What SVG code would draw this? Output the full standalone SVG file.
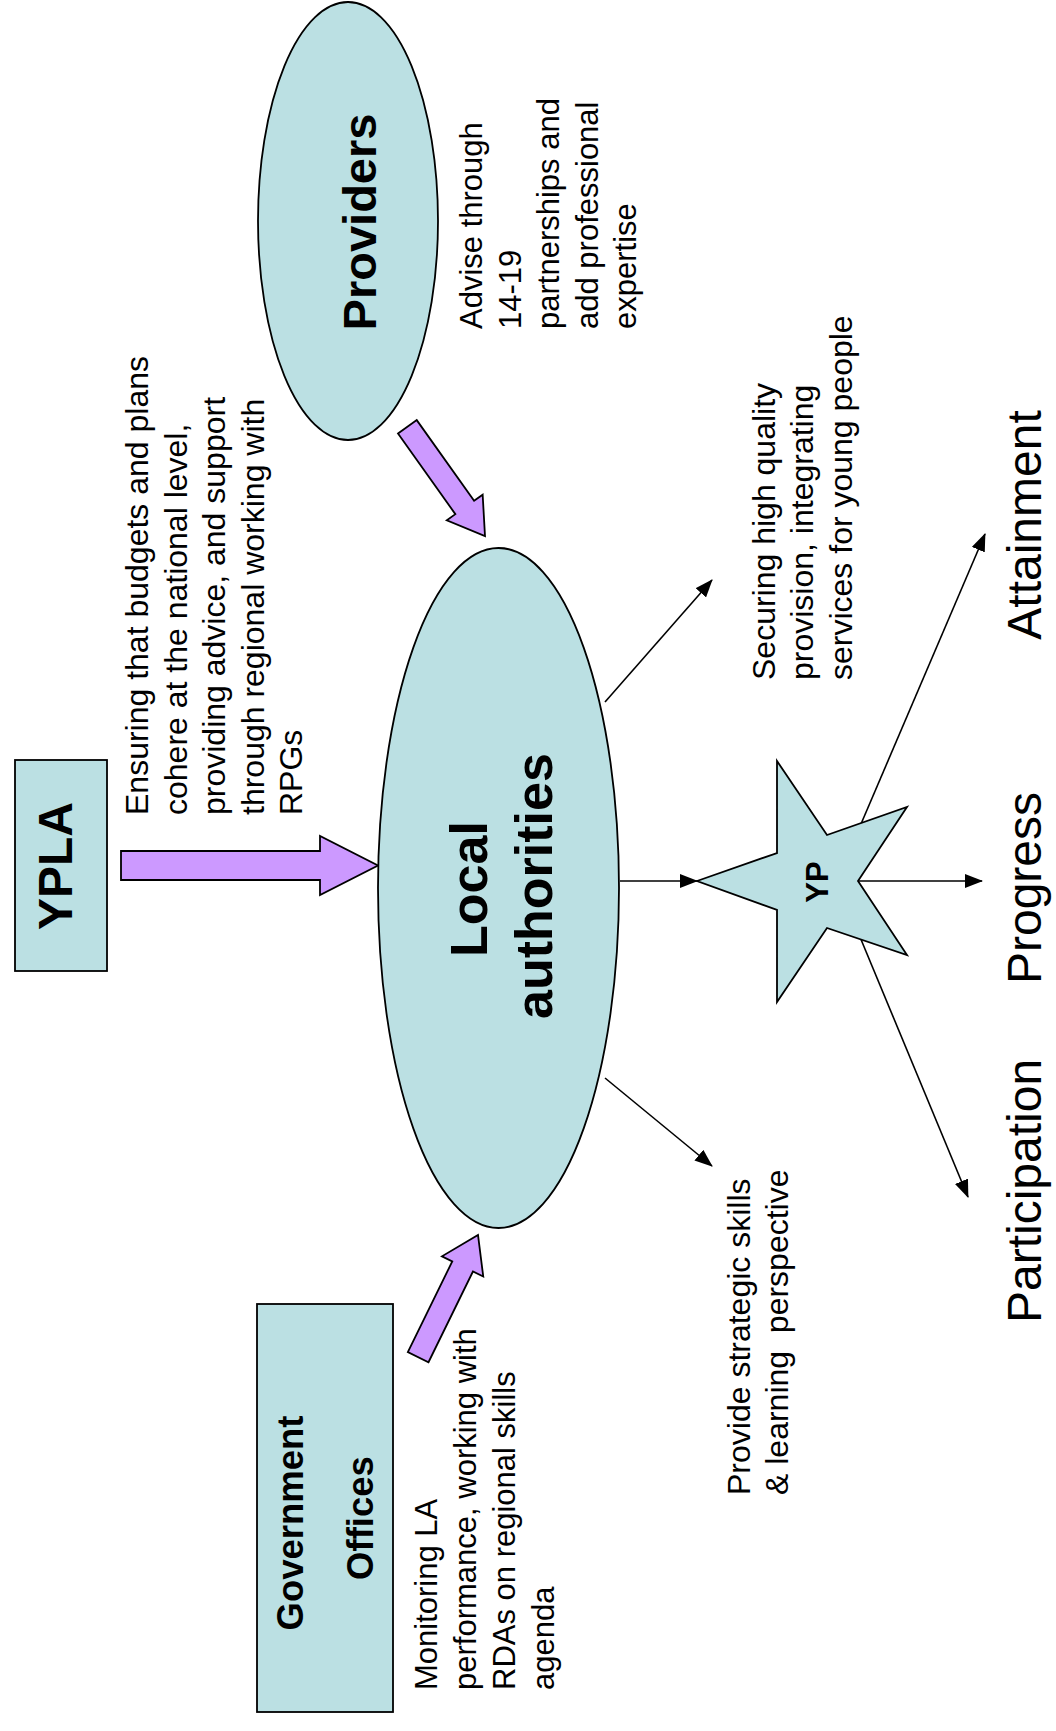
<svg xmlns="http://www.w3.org/2000/svg" width="1056" height="1731" viewBox="0 0 1056 1731">
<style>
.node{fill:#BBE0E3;stroke:#000;stroke-width:1.8}
.blk{fill:#CC99FF;stroke:#000;stroke-width:1.8;stroke-linejoin:miter}
.ln{stroke:#000;stroke-width:1.6;fill:none}
.t{font-family:"Liberation Sans",Arial,sans-serif;fill:#000}
.b{font-family:"Liberation Sans",Arial,sans-serif;font-weight:bold;fill:#000;text-anchor:middle}
</style>
<defs>
<marker id="ah" markerWidth="18" markerHeight="14" refX="17" refY="7" orient="auto" markerUnits="userSpaceOnUse"><path d="M0,0 L18,7 L0,14 z" fill="#000"/></marker>
</defs>
<rect width="1056" height="1731" fill="#fff"/>
<g id="connectors">
<polygon class="blk" transform="translate(378,865.5)" points="-257,-14.5 -58,-14.5 -58,-29.5 0,0 -58,29.5 -58,14.5 -257,14.5"/>
<polygon class="blk" transform="translate(485,536) rotate(54.6)" points="-134,-11.5 -35,-11.5 -35,-22 0,0 -35,22 -35,11.5 -134,11.5"/>
<polygon class="blk" transform="translate(478,1235) rotate(-63.9)" points="-136,-11.5 -35,-11.5 -35,-23 0,0 -35,23 -35,11.5 -136,11.5"/>
<line class="ln" x1="620" y1="881" x2="697" y2="881" marker-end="url(#ah)"/>
<line class="ln" x1="858" y1="881" x2="982" y2="881" marker-end="url(#ah)"/>
<line class="ln" x1="855" y1="838" x2="985" y2="534" marker-end="url(#ah)"/>
<line class="ln" x1="855" y1="925" x2="968" y2="1197" marker-end="url(#ah)"/>
<line class="ln" x1="605" y1="702" x2="712" y2="580" marker-end="url(#ah)"/>
<line class="ln" x1="605" y1="1078" x2="712" y2="1166" marker-end="url(#ah)"/>
</g>
<g id="ypla">
<rect class="node" x="15" y="760" width="92" height="211"/>
<text class="b" font-size="48" transform="translate(72,866) rotate(-90)">YPLA</text>
</g>
<g id="providers">
<ellipse class="node" cx="348" cy="221" rx="90" ry="219"/>
<text class="b" font-size="47" transform="translate(376,222) rotate(-90)">Providers</text>
</g>
<g id="local-authorities">
<ellipse class="node" cx="498.5" cy="888" rx="120.5" ry="340"/>
<text class="b" font-size="52" transform="translate(487,889) rotate(-90)">Local</text>
<text class="b" font-size="52" transform="translate(552,886) rotate(-90)">authorities</text>
</g>
<g id="government-offices">
<rect class="node" x="257" y="1304" width="136" height="408"/>
<text class="b" font-size="36.5" transform="translate(303,1523) rotate(-90)">Government</text>
<text class="b" font-size="36.5" transform="translate(373,1518) rotate(-90)">Offices</text>
</g>
<g id="yp">
<polygon class="node" points="697,881 777,853 777,761 827,835 907,807 858,881 907,955 827,928 777,1002 777,910"/>
<text class="b" font-size="31" transform="translate(828,882) rotate(-90)">YP</text>
</g>
<g id="labels">
<text class="t" font-size="32" transform="translate(148,815) rotate(-90)"><tspan x="0" y="0">Ensuring that budgets and plans</tspan><tspan x="0" y="38.5">cohere at the national level,</tspan><tspan x="0" y="77">providing advice, and support</tspan><tspan x="0" y="115.5">through regional working with</tspan><tspan x="0" y="154">RPGs</tspan></text>
<text class="t" font-size="31" transform="translate(482,329) rotate(-90)"><tspan x="0" y="0">Advise through</tspan><tspan x="0" y="38.5">14-19</tspan><tspan x="0" y="77">partnerships and</tspan><tspan x="0" y="115.5">add professional</tspan><tspan x="0" y="154">expertise</tspan></text>
<text class="t" font-size="31" transform="translate(437,1690) rotate(-90)"><tspan x="0" y="0">Monitoring LA</tspan><tspan x="0" y="39">performance, working with</tspan><tspan x="0" y="78">RDAs on regional skills</tspan><tspan x="0" y="117">agenda</tspan></text>
<text class="t" font-size="32" transform="translate(775,680) rotate(-90)"><tspan x="0" y="0">Securing high quality</tspan><tspan x="0" y="38.4">provision, integrating</tspan><tspan x="0" y="76.8">services for young people</tspan></text>
<text class="t" font-size="32" style="white-space:pre" transform="translate(750,1495) rotate(-90)"><tspan x="0" y="0">Provide strategic skills</tspan><tspan x="0" y="38.4">&amp; learning  perspective</tspan></text>
<text class="t" font-size="48" text-anchor="middle" transform="translate(1041,525) rotate(-90)">Attainment</text>
<text class="t" font-size="48" text-anchor="middle" transform="translate(1041,888) rotate(-90)">Progress</text>
<text class="t" font-size="48" text-anchor="middle" transform="translate(1041,1191) rotate(-90)">Participation</text>
</g>
</svg>
